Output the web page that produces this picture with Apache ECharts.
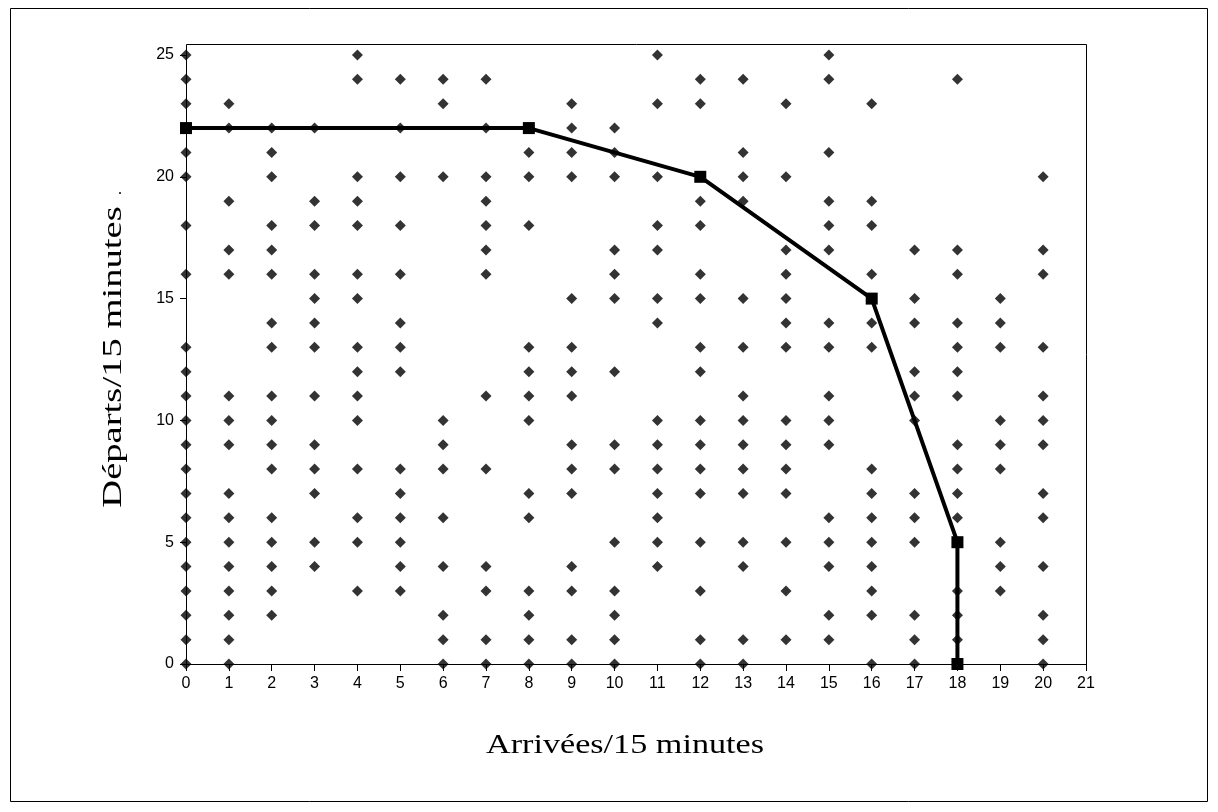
<!DOCTYPE html>
<html>
<head>
<meta charset="utf-8">
<script src="https://cdn.jsdelivr.net/npm/echarts@6/dist/echarts.min.js"></script>
<style>html,body{margin:0;padding:0;background:#fff;}#c{width:1218px;height:812px;}</style>
</head>
<body>
<div id="c"></div>
<script>
// Departure values observed for each arrival count (x = 0..20)
const col0 = [0,1,2,3,4,5,6,7,8,9,10,11,12,13,16,18,20,21,22,23,24,25];
const col1 = [0,1,2,3,4,5,6,7,9,10,11,16,17,19,22,23];
const col2 = [2,3,4,5,6,8,9,10,11,13,14,16,17,18,20,21,22];
const col3 = [4,5,7,8,9,11,13,14,15,16,18,19,22];
const col4 = [3,5,6,8,10,11,12,13,15,16,18,19,20,24,25];
const col5 = [3,4,5,6,7,8,12,13,14,16,18,20,22,24];
const col6 = [0,1,2,4,6,8,9,10,20,23,24];
const col7 = [0,1,3,4,8,11,16,17,18,19,20,22,24];
const col8 = [0,1,2,3,6,7,10,11,12,13,18,20,21,22];
const col9 = [0,1,3,4,7,8,9,11,12,13,15,20,21,22,23];
const col10 = [0,1,2,3,5,8,9,12,15,16,17,20,21,22];
const col11 = [4,5,6,7,8,9,10,14,15,17,18,20,23,25];
const col12 = [0,1,3,5,7,8,9,10,12,13,15,16,18,19,20,23,24];
const col13 = [0,1,4,5,7,8,9,10,11,13,15,19,20,21,24];
const col14 = [1,3,5,7,8,9,10,13,14,15,16,17,20,23];
const col15 = [1,2,4,5,6,9,10,11,13,14,17,18,19,21,24,25];
const col16 = [0,2,3,4,5,6,7,8,13,14,15,16,18,19,23];
const col17 = [0,1,2,5,6,7,10,11,12,14,15,17];
const col18 = [0,1,2,3,5,6,7,8,9,11,12,13,14,16,17,24];
const col19 = [3,4,5,8,9,10,13,14,15];
const col20 = [0,1,2,4,6,7,9,10,11,13,16,17,20];
const columns = [col0,col1,col2,col3,col4,col5,col6,col7,col8,col9,col10,col11,col12,col13,col14,col15,col16,col17,col18,col19,col20];

// Frontier line
const frontierX = [0, 8, 12, 16, 18, 18];
const frontierY = [22, 22, 20, 15, 5, 0];

const xTitle = 'Arrivées/15 minutes';
const yTitle = 'Départs/15 minutes';

const scatterData = [];
columns.forEach((col, x) => col.forEach(y => scatterData.push([x, y])));
const lineData = frontierX.map((x, i) => [x, frontierY[i]]);

const chart = echarts.init(document.getElementById('c'), null, {renderer: 'canvas'});
chart.setOption({
  animation: false,
  backgroundColor: '#fff',
  grid: {left: 186, right: 132, top: 55, bottom: 148, containLabel: false},
  xAxis: {
    type: 'value', min: 0, max: 21, interval: 1,
    axisLine: {show: true, lineStyle: {color: '#000', width: 1}},
    axisTick: {show: true, length: 7, lineStyle: {color: '#000'}},
    axisLabel: {color: '#000', fontFamily: 'Liberation Sans, Arial', fontSize: 16, margin: 12},
    splitLine: {show: false}
  },
  yAxis: {
    type: 'value', min: 0, max: 25, interval: 5,
    axisLine: {show: true, lineStyle: {color: '#000', width: 1}},
    axisTick: {show: true, length: 6, lineStyle: {color: '#000'}},
    axisLabel: {color: '#000', fontFamily: 'Liberation Sans, Arial', fontSize: 16, margin: 12},
    splitLine: {show: false}
  },
  graphic: [
    {type: 'rect', shape: {x: 10.5, y: 8.5, width: 1197, height: 793}, style: {fill: 'none', stroke: '#000', lineWidth: 1}, z: -1},
    {type: 'rect', shape: {x: 186.5, y: 44.5, width: 900, height: 620}, style: {fill: 'none', stroke: '#000', lineWidth: 1}, z: 10},
    {type: 'text', x: 625, y: 746, scaleX: 1.22, style: {text: xTitle, font: '28px "Liberation Serif", "Times New Roman", serif', fill: '#000', textAlign: 'center', textVerticalAlign: 'middle'}},
    {type: 'text', x: 114, y: 357, rotation: Math.PI / 2, scaleX: 1.38, style: {text: yTitle, font: '28px "Liberation Serif", "Times New Roman", serif', fill: '#000', textAlign: 'center', textVerticalAlign: 'middle'}},
    {type: 'text', x: 120, y: 190, style: {text: '.', font: '16px "Liberation Serif", serif', fill: '#000', textAlign: 'center', textVerticalAlign: 'middle'}}
  ],
  series: [
    {
      type: 'scatter', data: scatterData, symbol: 'diamond', symbolSize: 11,
      itemStyle: {color: '#000'}, z: 2
    },
    {
      type: 'line', data: lineData, symbol: 'rect', symbolSize: 12,
      lineStyle: {color: '#000', width: 4}, itemStyle: {color: '#000'}, z: 3
    }
  ]
});
</script>
</body>
</html>
